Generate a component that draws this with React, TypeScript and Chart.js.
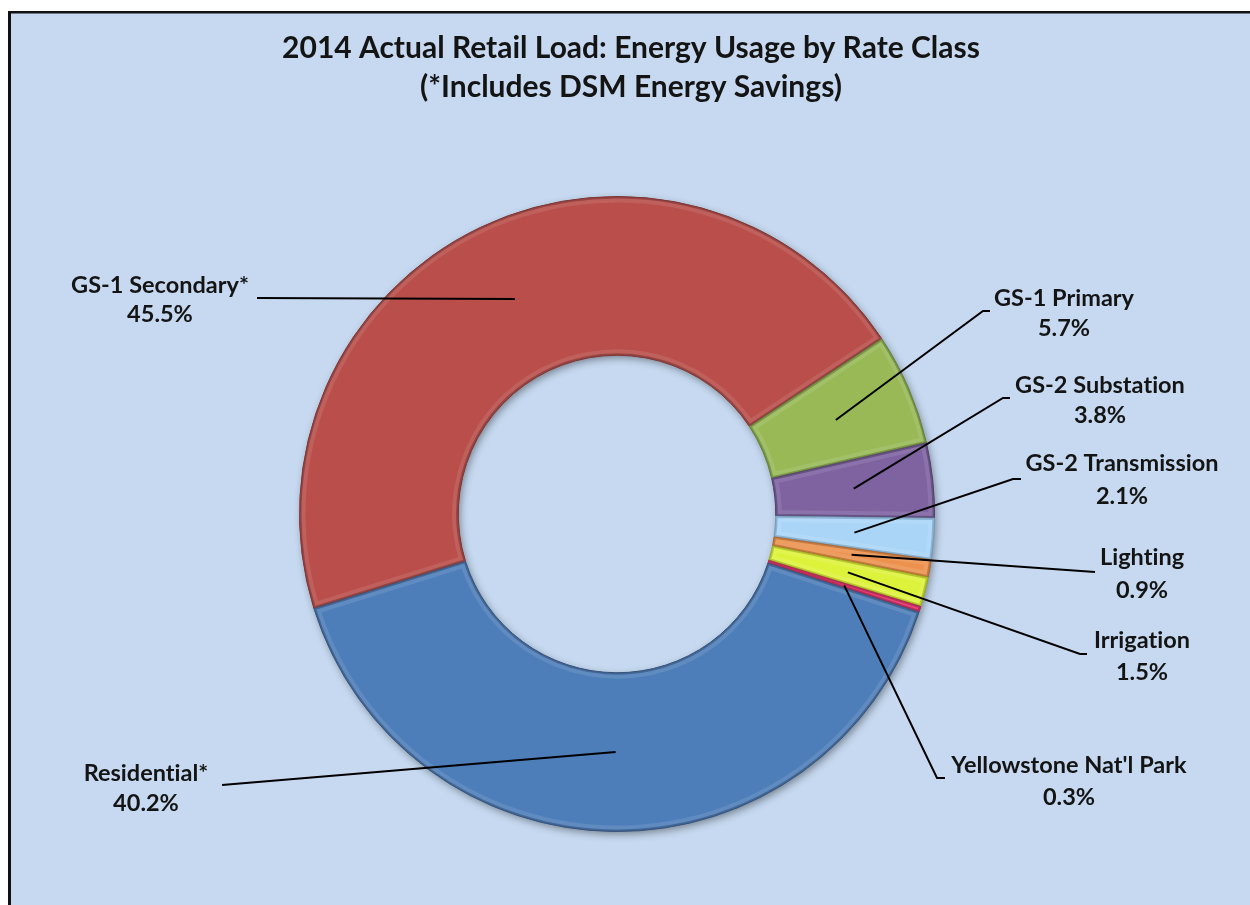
import React, { useEffect, useRef } from "react";
import { Chart, registerables } from "chart.js";

Chart.register(...registerables);

// ---- Data ----
const categories = [
  "GS-1 Secondary*",
  "GS-1 Primary",
  "GS-2 Substation",
  "GS-2 Transmission",
  "Lighting",
  "Irrigation",
  "Yellowstone Nat'l Park",
  "Residential*",
];
const shares = [45.5, 5.7, 3.8, 2.1, 0.9, 1.5, 0.3, 40.2];
const shareLabels = ["45.5%", "5.7%", "3.8%", "2.1%", "0.9%", "1.5%", "0.3%", "40.2%"];
const titleLines = ["2014 Actual Retail Load: Energy Usage by Rate Class", "(*Includes DSM Energy Savings)"];

// ---- Styles ----
const sliceColors = ["#B94E4B", "#98B956", "#7F63A1", "#AAD5F7", "#EC924E", "#DDF23A", "#E8336E", "#4E7EB9"];
const sliceBorders = ["#7A302E", "#5F7A32", "#4E3A68", "#6F98B8", "#A8602A", "#98A818", "#A01C44", "#2F4F78"];
const BG = "#C6D9F0";
const FONT = "Lato, 'Open Sans', sans-serif";

// ---- Label layout (page px): text centre x, line1 y, line2 y, elbow points
type LabelLayout = { tx: number; y1: number; y2: number; pts: [number, number][] };
const labelLayout: LabelLayout[] = [
  { tx: 160, y1: 285, y2: 314, pts: [[257, 298]] },
  { tx: 1064, y1: 298, y2: 328, pts: [[983, 311], [990, 311]] },
  { tx: 1100, y1: 385, y2: 415, pts: [[1003, 398], [1010, 398]] },
  { tx: 1122, y1: 463, y2: 496, pts: [[1013, 479], [1021, 479]] },
  { tx: 1142, y1: 557, y2: 590, pts: [[1095, 572]] },
  { tx: 1142, y1: 640, y2: 672, pts: [[1080, 654], [1087, 654]] },
  { tx: 1069, y1: 765, y2: 797, pts: [[937, 778], [945, 778]] },
  { tx: 146, y1: 773, y2: 803, pts: [[222, 785]] },
];

function arcPath(ctx: CanvasRenderingContext2D, a: any) {
  ctx.beginPath();
  ctx.arc(a.x, a.y, a.outerRadius, a.startAngle, a.endAngle);
  ctx.arc(a.x, a.y, a.innerRadius, a.endAngle, a.startAngle, true);
  ctx.closePath();
}

const framePlugin = {
  id: "frame",
  beforeDraw(chart: any) {
    const ctx = chart.ctx;
    ctx.save();
    ctx.fillStyle = "#ffffff";
    ctx.fillRect(0, 0, chart.width, chart.height);
    ctx.fillStyle = BG;
    ctx.fillRect(8, 11, chart.width - 8, chart.height - 11);
    ctx.fillStyle = "#111111";
    ctx.fillRect(8, 11, 3, chart.height - 11);
    ctx.fillRect(8, 11, chart.width - 8, 2.5);
    ctx.fillStyle = "#141414";
    ctx.font = `bold 30px ${FONT}`;
    ctx.textAlign = "center";
    ctx.textBaseline = "middle";
    ctx.fillText(titleLines[0], 631, 48);
    ctx.fillText(titleLines[1], 631, 87);
    ctx.restore();
  },
  beforeDatasetsDraw(chart: any) {
    const ctx = chart.ctx;
    const arcs = chart.getDatasetMeta(0).data;
    if (!arcs.length) return;
    const a = arcs[0];
    ctx.save();
    ctx.shadowColor = "rgba(0,0,0,0.45)";
    ctx.shadowBlur = 8;
    ctx.shadowOffsetX = 2;
    ctx.shadowOffsetY = 3;
    ctx.fillStyle = "#555";
    ctx.beginPath();
    ctx.arc(a.x, a.y, a.outerRadius - 1, 0, Math.PI * 2);
    ctx.arc(a.x, a.y, a.innerRadius + 1, Math.PI * 2, 0, true);
    ctx.closePath();
    ctx.fill("evenodd");
    ctx.restore();
  },
};

const bevelPlugin = {
  id: "bevel",
  afterDatasetsDraw(chart: any) {
    const ctx = chart.ctx;
    const arcs = chart.getDatasetMeta(0).data;
    arcs.forEach((a: any, i: number) => {
      ctx.save();
      arcPath(ctx, a);
      ctx.clip();
      arcPath(ctx, a);
      ctx.lineJoin = "round";
      ctx.strokeStyle = "rgba(255,255,255,0.1)";
      ctx.lineWidth = 12;
      ctx.stroke();
      ctx.strokeStyle = sliceBorders[i];
      ctx.globalAlpha = 0.6;
      ctx.lineWidth = 4;
      ctx.stroke();
      ctx.restore();
    });
  },
};

const labelPlugin = {
  id: "leaderLabels",
  afterDatasetsDraw(chart: any) {
    const ctx = chart.ctx;
    const meta = chart.getDatasetMeta(0);
    ctx.save();
    meta.data.forEach((arc: any, i: number) => {
      const lay = labelLayout[i];
      const p = arc.tooltipPosition();
      ctx.beginPath();
      ctx.strokeStyle = "#000000";
      ctx.lineWidth = 2;
      ctx.moveTo(p.x, p.y);
      lay.pts.forEach(([x, y]) => ctx.lineTo(x, y));
      ctx.stroke();
      ctx.fillStyle = "#141414";
      ctx.font = `bold 23.5px ${FONT}`;
      (ctx as any).letterSpacing = "0.01px";
      ctx.textAlign = "center";
      ctx.textBaseline = "middle";
      ctx.fillText(categories[i], lay.tx, lay.y1);
      ctx.fillText(shareLabels[i], lay.tx, lay.y2);
    });
    ctx.restore();
  },
};

export default function App() {
  const ref = useRef<HTMLCanvasElement | null>(null);
  useEffect(() => {
    if (!ref.current) return;
    const chart = new Chart(ref.current, {
      type: "doughnut",
      data: {
        labels: categories,
        datasets: [
          {
            data: shares,
            backgroundColor: sliceColors,
            borderColor: sliceBorders,
            borderWidth: 1,
          },
        ],
      },
      options: {
        responsive: false,
        animation: false,
        cutout: "50%",
        rotation: -107.3,
        layout: { padding: { left: 299, right: 315, top: 196, bottom: 73 } },
        plugins: {
          legend: { display: false },
          tooltip: { enabled: false },
          title: { display: false },
        },
      },
      plugins: [framePlugin, bevelPlugin, labelPlugin],
    });
    return () => chart.destroy();
  }, []);
  return (
    <div style={{ position: "fixed", left: 0, top: 0, width: 1250, height: 905, overflow: "hidden" }}>
      <canvas ref={ref} width={1250} height={905} style={{ display: "block" }} />
    </div>
  );
}
